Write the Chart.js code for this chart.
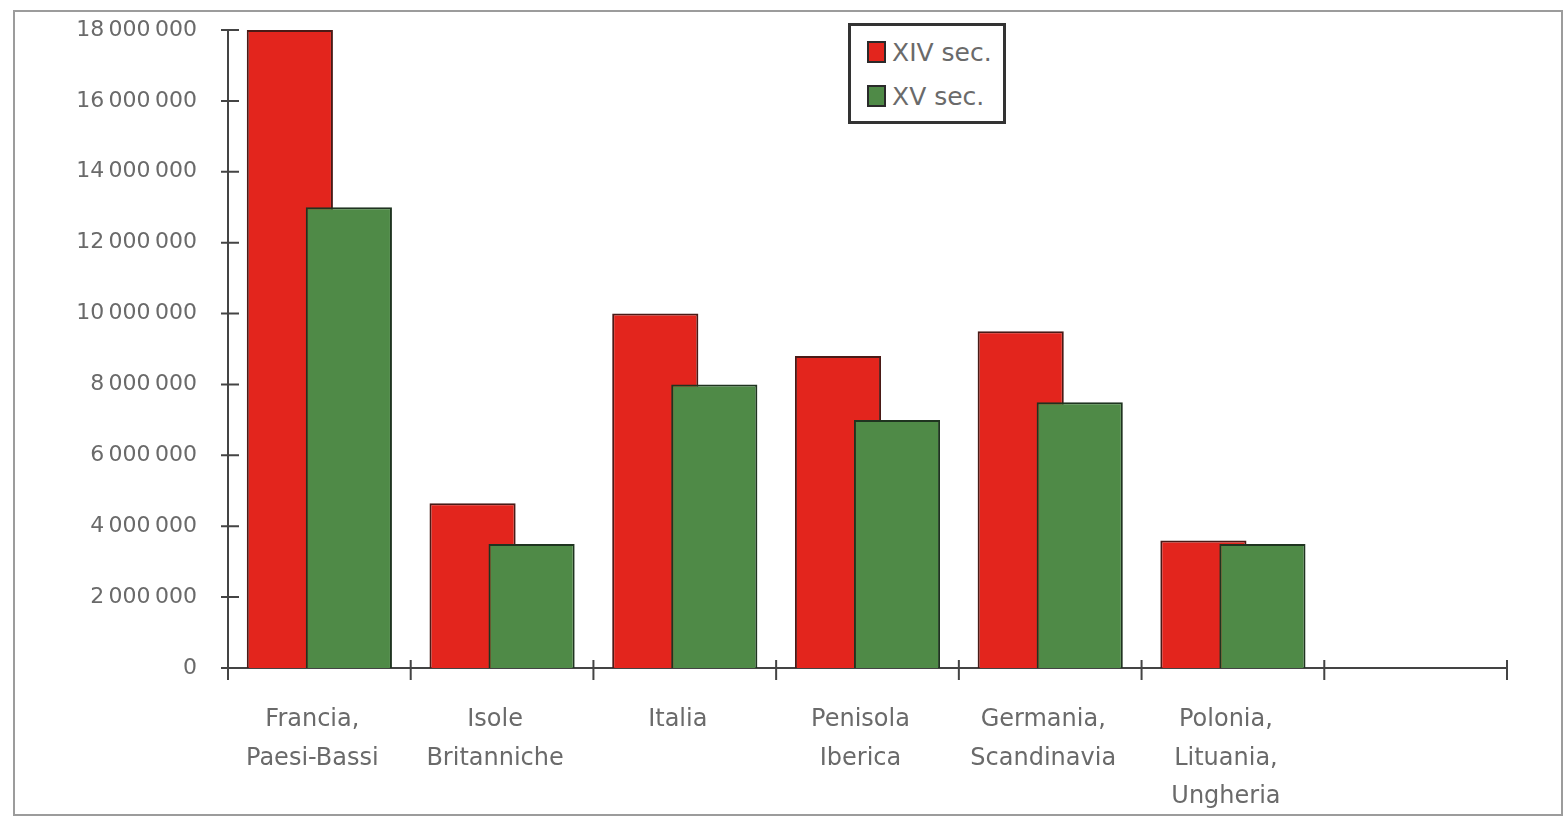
<!DOCTYPE html>
<html>
<head>
<meta charset="utf-8">
<script src="https://cdn.jsdelivr.net/npm/chart.js@4/dist/chart.umd.min.js"></script>
<style>
    body { margin: 0; background: #fff; }
    #wrap { position: relative; width: 1564px; height: 820px; }
    #legend {
        position: absolute; left: 848px; top: 23px; width: 152px; height: 95px;
        border: 3px solid #333; background: #fff;
        font-family: "DejaVu Sans", sans-serif; font-size: 25px; color: #6a6a6a;
    }
    .item { position: absolute; left: 16px; height: 26px; line-height: 26px; white-space: nowrap; }
    .swatch { display: inline-block; width: 15px; height: 18px; border: 2px solid #2a2a2a; vertical-align: -2px; margin-right: 6px; }
</style>
</head>
<body>
<div id="wrap">
    <canvas id="chart" width="1564" height="820"></canvas>
    <div id="legend"></div>
</div>
<script>
const categories = [
    ['Francia,', 'Paesi-Bassi'],
    ['Isole', 'Britanniche'],
    ['Italia'],
    ['Penisola', 'Iberica'],
    ['Germania,', 'Scandinavia'],
    ['Polonia,', 'Lituania,', 'Ungheria'],
    ''
];
const seriesNames = ['XIV sec.', 'XV sec.'];
const xivValues = [18000000, 4650000, 10000000, 8800000, 9500000, 3600000, null];
const xvValues = [13000000, 3500000, 8000000, 7000000, 7500000, 3500000, null];
const yTicks = [0, 2000000, 4000000, 6000000, 8000000, 10000000, 12000000, 14000000, 16000000, 18000000];

const textColor = '#6a6a6a';
const axisColor = '#444';

function formatPop(v) {
    return String(v).replace(/\B(?=(\d{3})+(?!\d))/g, '\u2009');
}

// il rosso sta a sinistra ma viene disegnato sotto il verde
const drawOrder = {
    id: 'drawOrder',
    beforeDatasetsDraw(chart) {
        chart.getDatasetMeta(0).controller.draw();
    },
    beforeDatasetDraw(chart, args) {
        if (args.index === 0) return false;
    }
};

// tacche che attraversano gli assi + cornice
const axisMarks = {
    id: 'axisMarks',
    beforeDraw(chart) {
        const ctx = chart.ctx;
        ctx.save();
        ctx.strokeStyle = '#9c9c9c';
        ctx.lineWidth = 2;
        ctx.strokeRect(14, 11, 1548, 804);
        ctx.restore();
    },
    afterDraw(chart) {
        const { ctx, scales: { x, y } } = chart;
        ctx.save();
        ctx.strokeStyle = axisColor;
        ctx.lineWidth = 2;
        ctx.beginPath();
        y.ticks.forEach(t => {
            const py = y.getPixelForValue(t.value);
            ctx.moveTo(y.right - 7, py);
            ctx.lineTo(y.right + 11, py);
        });
        for (let i = 0; i <= categories.length; i++) {
            const px = x.getPixelForValue(i - 0.5);
            ctx.moveTo(px, x.top - 8);
            ctx.lineTo(px, x.top + 12);
        }
        ctx.stroke();
        ctx.restore();
    }
};

const chart = new Chart(document.getElementById('chart'), {
    type: 'bar',
    data: {
        labels: categories,
        datasets: [{
            label: seriesNames[0],
            data: xivValues,
            backgroundColor: '#e3251d',
            borderColor: '#4a1a16',
            borderWidth: 2
        }, {
            label: seriesNames[1],
            data: xvValues,
            backgroundColor: '#4f8a47',
            borderColor: '#1f3420',
            borderWidth: 2
        }]
    },
    options: {
        responsive: false,
        animation: false,
        devicePixelRatio: 1,
        categoryPercentage: 0.646,
        barPercentage: 1.46,
        layout: { padding: { left: 0, top: 30, right: 57, bottom: 0 } },
        plugins: { legend: { display: false }, tooltip: { enabled: false } },
        scales: {
            x: {
                grid: { display: false, drawTicks: false },
                border: { display: true, color: axisColor, width: 2 },
                ticks: {
                    color: textColor,
                    padding: 33,
                    labelOffset: -7,
                    maxRotation: 0,
                    autoSkip: false,
                    font: { family: 'DejaVu Sans', size: 24, lineHeight: 1.6 }
                },
                afterFit(scale) { scale.height = 152; }
            },
            y: {
                min: 0,
                max: 18000000,
                grid: { display: false, drawTicks: false },
                border: { display: true, color: axisColor, width: 2 },
                afterBuildTicks(scale) { scale.ticks = yTicks.map(v => ({ value: v })); },
                ticks: {
                    color: textColor,
                    padding: 31,
                    font: { family: 'DejaVu Sans', size: 22 },
                    callback: v => formatPop(v)
                },
                afterFit(scale) {
                    scale.width = 228;
                    scale.paddingTop = 0;
                    scale.paddingBottom = 0;
                }
            }
        }
    },
    plugins: [drawOrder, axisMarks]
});

// legenda con riquadro, come nell'originale
const legend = document.getElementById('legend');
legend.innerHTML = chart.data.datasets.map((ds, i) =>
    `<div class="item" style="top:${14 + i * 44}px"><span class="swatch" style="background:${ds.backgroundColor}"></span>${ds.label}</div>`
).join('');
</script>
</body>
</html>
